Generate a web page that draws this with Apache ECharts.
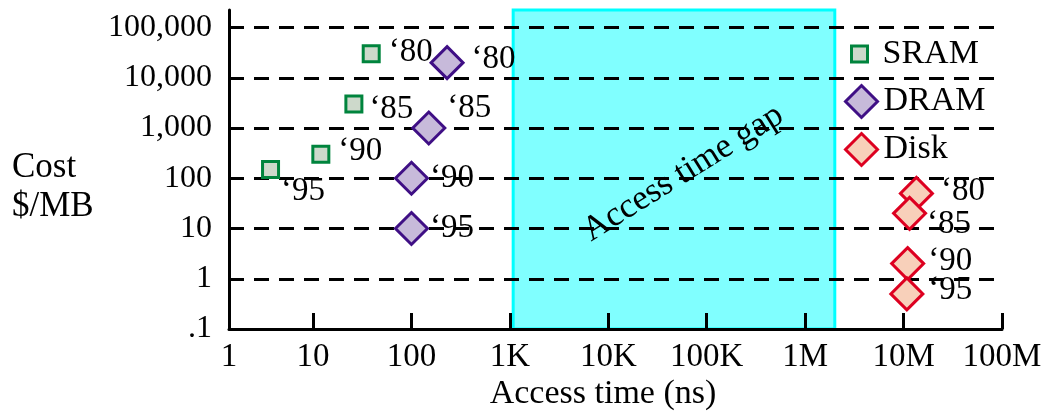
<!DOCTYPE html>
<html><head><meta charset="utf-8">
<script src="https://cdn.jsdelivr.net/npm/echarts@6/dist/echarts.min.js"></script>
<style>html,body{margin:0;padding:0;background:#fff}#c{width:1053px;height:412px}</style>
</head><body><div id="c"></div>
<script>
// ---- data ----
const years = ['\u201880', '\u201885', '\u201890', '\u201895'];
const sramTime = [39, 26, 12, 3.7];
const sramCost = [30000, 3000, 300, 150];
const dramTime = [230, 150, 100, 100];
const dramCost = [20000, 1000, 100, 10];
const diskTime = [13.5e6, 11.5e6, 11e6, 10.8e6];
const diskCost = [50, 20, 2, 0.5];
const xTickLabels = ['1', '10', '100', '1K', '10K', '100K', '1M', '10M', '100M'];
const yTickLabels = ['.1', '1', '10', '100', '1,000', '10,000', '100,000'];
const gapRange = [1080, 2.0e6];
const xRange = [1.4, 1e8];
const yRange = [0.1, 223000];

// ---- layout / style ----
const FONT = '"Liberation Serif", "DejaVu Serif", serif';
const sramNudge = [[3, -1], [1, 5], [3, -3], [-4, 22]];
const dramNudge = [[2, -3], [-4, -20], [-4, 0], [-4, 0]];
const diskNudge = [[2, -2], [-5, 11], [-2, -2], [-1, -4]];
const C = {
  sram: {fill: '#CDD9CB', line: '#00843D'},
  dram: {fill: '#C7BADA', line: '#3F0F85'},
  disk: {fill: '#F8D0BA', line: '#DD0020'}
};

function pts(t, c, nudge) {
  return t.map((v, i) => ({value: [v, c[i]], label: {offset: nudge[i]}}));
}
const labelCfg = {
  show: true, position: 'right', distance: 5,
  formatter: p => years[p.dataIndex],
  color: '#000', fontSize: 33, fontFamily: FONT
};
function scatter(name, symbol, size, col, t, c, nudge) {
  return {
    type: 'scatter', name, symbol, symbolSize: size,
    itemStyle: {color: col.fill, borderColor: col.line, borderWidth: 3, opacity: 1},
    label: labelCfg, emphasis: {disabled: true}, silent: true,
    data: pts(t, c, nudge), z: 3
  };
}
function legendFor(name, size, left, top, col, symbol, padLeft) {
  return {
    data: [{name, icon: symbol}], left, top, padding: 0, orient: 'vertical',
    itemWidth: size, itemHeight: size, selectedMode: false,
    itemStyle: {color: col.fill, borderColor: col.line, borderWidth: 3},
    textStyle: {fontSize: 34, fontFamily: FONT, color: '#000', lineHeight: 32, padding: [0, 0, 0, padLeft]}
  };
}

const chart = echarts.init(document.getElementById('c'), null, {renderer: 'canvas'});
chart.setOption({
  animation: false,
  backgroundColor: '#fff',
  grid: {left: 229, right: 51, top: 10, bottom: 83, containLabel: false},
  legend: [
    legendFor('SRAM', 16, 850, 37, C.sram, 'rect', 10),
    legendFor('DRAM', 32, 844, 84, C.dram, 'diamond', 1),
    legendFor('Disk', 32, 844, 132, C.disk, 'diamond', 1)
  ],
  xAxis: {
    type: 'log', logBase: 10, min: xRange[0], max: xRange[1],
    axisLine: {show: true, onZero: false, lineStyle: {color: '#000', width: 3}},
    axisTick: {show: true, inside: true, length: 16, lineStyle: {color: '#000', width: 3}},
    axisLabel: {margin: 12, fontSize: 33, fontFamily: FONT, color: '#000',
      formatter: v => xTickLabels[Math.round(Math.log10(v))]},
    splitLine: {show: false}, minorTick: {show: false}
  },
  yAxis: {
    type: 'log', logBase: 10, min: yRange[0], max: yRange[1],
    axisLine: {show: true, onZero: false, lineStyle: {color: '#000', width: 3}},
    axisTick: {show: false},
    axisLabel: {margin: 17, fontSize: 32, fontFamily: FONT, color: '#000', showMaxLabel: false,
      formatter: v => yTickLabels[Math.round(Math.log10(v)) + 1]},
    splitLine: {show: true, showMinLine: false, showMaxLine: false,
      lineStyle: {color: '#000', width: 3, type: [15, 10]}}
  },
  series: [
    {
      type: 'scatter', name: 'gap', data: [], silent: true,
      markArea: {
        silent: true, z: -1,
        itemStyle: {color: '#80FFFF', borderColor: '#00FFFF', borderWidth: 3, opacity: 1},
        label: {show: true, position: 'inside', rotate: 32, offset: [6, 8],
          formatter: 'Access time gap', fontSize: 35, fontFamily: FONT, color: '#000'},
        emphasis: {disabled: true},
        data: [[{xAxis: gapRange[0], yAxis: yRange[0]}, {xAxis: gapRange[1], yAxis: yRange[1]}]]
      }
    },
    scatter('SRAM', 'rect', 16, C.sram, sramTime, sramCost, sramNudge),
    scatter('DRAM', 'diamond', 32, C.dram, dramTime, dramCost, dramNudge),
    scatter('Disk', 'diamond', 32, C.disk, diskTime, diskCost, diskNudge)
  ],
  graphic: [
    {type: 'text', x: 12, y: 168, style: {text: 'Cost', font: '35px ' + FONT, fill: '#000',
      textAlign: 'left', align: 'left', textVerticalAlign: 'middle', verticalAlign: 'middle'}},
    {type: 'text', x: 12, y: 207, style: {text: '$/MB', font: '35px ' + FONT, fill: '#000',
      textAlign: 'left', align: 'left', textVerticalAlign: 'middle', verticalAlign: 'middle'}},
    {type: 'text', x: 603, y: 394, style: {text: 'Access time (ns)', font: '34px ' + FONT, fill: '#000',
      textAlign: 'center', align: 'center', textVerticalAlign: 'middle', verticalAlign: 'middle'}}
  ]
});
</script></body></html>
